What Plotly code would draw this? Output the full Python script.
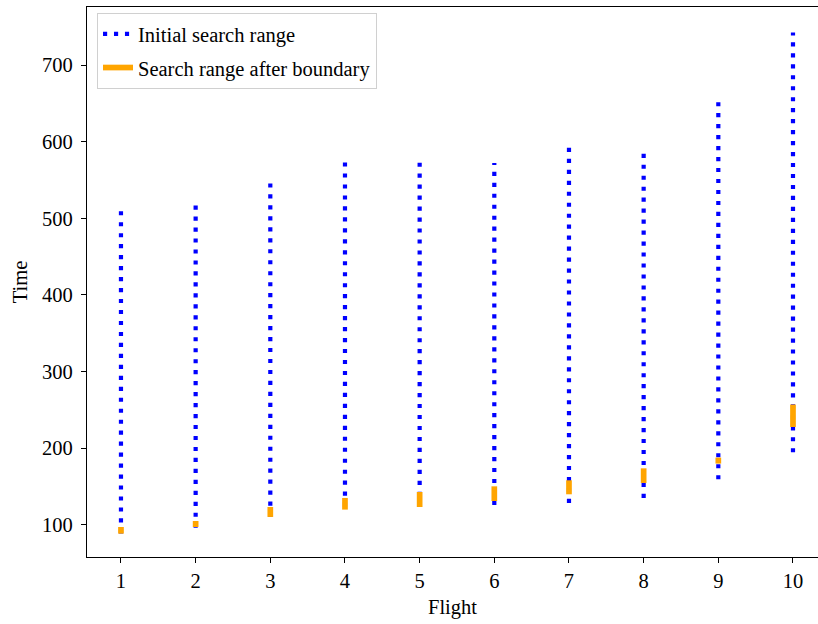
import plotly.graph_objects as go

flights = [1, 2, 3, 4, 5, 6, 7, 8, 9, 10]
initial_low = [88.4, 95.8, 110.4, 123.4, 123.2, 125.6, 128.2, 134.8, 159.2, 194.4]
initial_high = [509.3, 517, 546.2, 573.3, 573.3, 572.4, 592.5, 584.6, 653, 742.7]
bound_low = [88.2, 96.9, 110, 119.6, 123.0, 130.8, 139.6, 154.4, 179.7, 227.5]
bound_high = [96.9, 104.7, 123, 134.8, 142.6, 150.0, 157.9, 173.5, 187.5, 256.8]
x_ticks = [1, 2, 3, 4, 5, 6, 7, 8, 9, 10]
y_ticks = [100, 200, 300, 400, 500, 600, 700]


def segments(xs, lows, highs):
    sx, sy = [], []
    for x, lo, hi in zip(xs, lows, highs):
        sx += [x, x, None]
        sy += [lo, hi, None]
    return sx, sy


bx, by = segments(flights, initial_low, initial_high)
ox, oy = segments(flights, bound_low, bound_high)

FONT = "Liberation Serif, Times New Roman, serif"
FS = 20.5

fig = go.Figure()
fig.add_trace(go.Scatter(x=bx, y=by, mode="lines", name="Initial search range",
                         legendgroup="a",
                         line=dict(color="#0000ff", width=4.2, dash="4.15px,6.82px"),
                         connectgaps=False))
fig.add_trace(go.Scatter(x=ox, y=oy, mode="lines", name="Search range after boundary",
                         legendgroup="b",
                         line=dict(color="#ffa500", width=5.7),
                         connectgaps=False))

fig.update_layout(
    width=818, height=624,
    margin=dict(l=87, r=0, t=7, b=67),
    paper_bgcolor="white", plot_bgcolor="white",
    font=dict(family=FONT, size=FS, color="black"),
    showlegend=True,
    legend=dict(x=0.0137, y=0.989, xanchor="left", yanchor="top",
                bgcolor="rgba(255,255,255,0.8)", bordercolor="#d0d0d0", borderwidth=1,
                font=dict(family=FONT, size=FS), itemwidth=30,
                tracegroupgap=4),
    xaxis=dict(range=[0.545, 10.335], tickvals=x_ticks, ticktext=[str(t) for t in x_ticks],
               showgrid=False, zeroline=False, showline=True, linecolor="black", linewidth=1.2,
               mirror=True, ticks="outside", ticklen=5, tickwidth=1.1, tickcolor="black",
               tickfont=dict(family=FONT, size=FS),
               title=dict(text="Flight", standoff=8, font=dict(family=FONT, size=FS)),
               automargin=False),
    yaxis=dict(range=[57.7, 776], tickvals=y_ticks, ticktext=[str(t) for t in y_ticks],
               showgrid=False, zeroline=False, showline=True, linecolor="black", linewidth=1.2,
               mirror=False, ticks="outside", ticklen=5, tickwidth=1.1, tickcolor="black",
               tickfont=dict(family=FONT, size=FS), ticklabelstandoff=4,
               title=dict(text="Time", standoff=8, font=dict(family=FONT, size=FS)),
               automargin=False),
)

fig.write_html("out.html", config={"displayModeBar": False},
               post_script="document.body.style.margin='0px';document.body.style.overflow='hidden';")
